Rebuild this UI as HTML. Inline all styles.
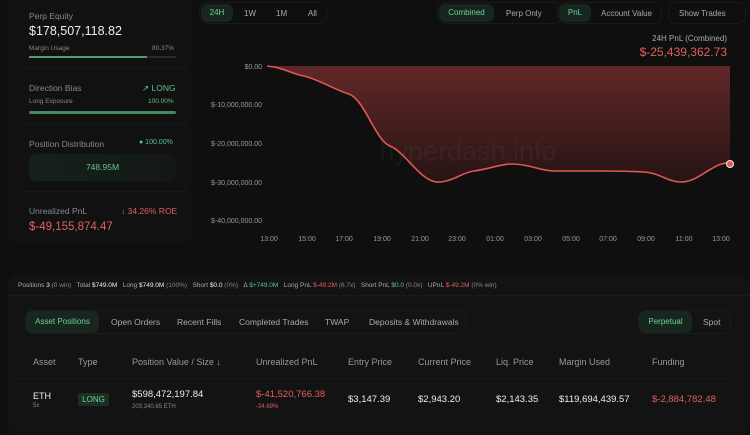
<!DOCTYPE html>
<html><head><meta charset="utf-8"><style>
*{margin:0;padding:0;box-sizing:border-box}
body{width:750px;height:430px;background:#0f0f0f;font-family:"Liberation Sans",sans-serif;color:#ddd;position:relative;overflow:hidden}
.a{position:absolute;white-space:nowrap}
.g{color:#5fc28a}.r{color:#e0605a}.m{color:#888}
.pill{position:absolute;border-radius:7px;background:#17271f;color:#6fcf97}
</style></head><body>
<div class="a" style="left:10px;top:0;width:180px;height:245px;background:#111"></div>
<div class="a m" style="left:29px;top:11px;font-size:8.5px">Perp Equity</div>
<div class="a" style="left:29px;top:24px;font-size:12.5px;color:#eee">$178,507,118.82</div>
<div class="a m" style="left:29px;top:45px;font-size:6.5px">Margin Usage</div>
<div class="a m" style="left:152px;top:45px;font-size:6.5px">80.37%</div>
<div class="a" style="left:29px;top:56px;width:147px;height:2px;background:#2a2a2a"><div style="width:118px;height:2px;background:#4a9d6e"></div></div>
<div class="a" style="left:20px;top:68px;width:165px;height:1px;background:#191919"></div>
<div class="a m" style="left:29px;top:83px;font-size:8.5px">Direction Bias</div>
<div class="a g" style="left:142px;top:83px;font-size:8.5px">↗ LONG</div>
<div class="a m" style="left:29px;top:98px;font-size:6.5px">Long Exposure</div>
<div class="a g" style="left:148px;top:98px;font-size:6.5px">100.00%</div>
<div class="a" style="left:29px;top:111px;width:147px;height:3px;border-radius:2px;background:#3f8a5f"></div>
<div class="a" style="left:20px;top:124px;width:165px;height:1px;background:#191919"></div>
<div class="a m" style="left:29px;top:139px;font-size:8.5px">Position Distribution</div>
<div class="a g" style="left:139px;top:139px;font-size:7px">● 100.00%</div>
<div class="a" style="left:29px;top:154px;width:147px;height:27px;border-radius:7px;background:linear-gradient(90deg,#16211b,#131815);color:#6fbf8f;font-size:8.5px;text-align:center;line-height:27px">748.95M</div>
<div class="a" style="left:20px;top:191px;width:165px;height:1px;background:#191919"></div>
<div class="a m" style="left:29px;top:206px;font-size:8.5px">Unrealized PnL</div>
<div class="a r" style="left:121px;top:206px;font-size:8.5px">↓ 34.26% ROE</div>
<div class="a r" style="left:29px;top:221px;font-size:11.5px">$-49,155,874.47</div>

<div class="a" style="left:199px;top:2px;width:128px;height:22px;border:1px solid #1a1a1a;border-radius:8px"></div>
<div class="pill" style="left:201px;top:4px;width:32px;height:18px;font-size:8px;text-align:center;line-height:18px">24H</div>
<div class="a" style="left:244px;top:9px;font-size:8px;color:#aaa">1W</div>
<div class="a" style="left:276px;top:9px;font-size:8px;color:#aaa">1M</div>
<div class="a" style="left:308px;top:9px;font-size:8px;color:#aaa">All</div>
<div class="a" style="left:437px;top:2px;width:125px;height:22px;border:1px solid #1a1a1a;border-radius:8px"></div>
<div class="pill" style="left:439px;top:4px;width:55px;height:18px;font-size:8px;text-align:center;line-height:18px">Combined</div>
<div class="a" style="left:506px;top:9px;font-size:8px;color:#aaa">Perp Only</div>
<div class="a" style="left:557px;top:2px;width:105px;height:22px;border:1px solid #1a1a1a;border-radius:8px"></div>
<div class="pill" style="left:559px;top:4px;width:32px;height:18px;font-size:8px;text-align:center;line-height:18px">PnL</div>
<div class="a" style="left:601px;top:9px;font-size:8px;color:#aaa">Account Value</div>
<div class="a" style="left:668px;top:2px;width:78px;height:22px;border:1px solid #1a1a1a;border-radius:8px"></div>
<div class="a" style="left:679px;top:9px;font-size:8px;color:#aaa">Show Trades</div>
<div class="a" style="right:23px;top:34px;font-size:8px;color:#aaa">24H PnL (Combined)</div>
<div class="a r" style="right:23px;top:45px;font-size:12px">$-25,439,362.73</div>

<svg class="a" style="left:0;top:0" width="750" height="260">
<defs><linearGradient id="f" x1="0" y1="0" x2="0" y2="1"><stop offset="0" stop-color="#6a2a2a"/><stop offset="1" stop-color="#2a1515"/></linearGradient></defs>
<g font-size="7" fill="#999" text-anchor="end" font-family="Liberation Sans">
<text x="262" y="69">$0.00</text><text x="262" y="107">$-10,000,000.00</text><text x="262" y="146">$-20,000,000.00</text><text x="262" y="185">$-30,000,000.00</text><text x="262" y="223">$-40,000,000.00</text></g>
<g font-size="7" fill="#999" text-anchor="middle" font-family="Liberation Sans">
<text x="269" y="241">13:00</text><text x="307" y="241">15:00</text><text x="344" y="241">17:00</text><text x="382" y="241">19:00</text><text x="420" y="241">21:00</text><text x="457" y="241">23:00</text><text x="495" y="241">01:00</text><text x="533" y="241">03:00</text><text x="571" y="241">05:00</text><text x="608" y="241">07:00</text><text x="646" y="241">09:00</text><text x="684" y="241">11:00</text><text x="721" y="241">13:00</text></g>
<path d="M267,66 C285,68 292,74 304,76 C320,80 335,90 349,94 C365,100 375,140 390,146 C405,152 420,180 436,182 C452,183 462,172 474,171 C490,169 500,164 511,164 C530,164 540,171 554,171 L599,171 C620,171 630,171 644,172 C660,173 668,182 681,182 C700,182 712,162 730,163 L730,66 Z" fill="url(#f)" opacity="0.9"/>
<text x="468" y="160" font-size="27" fill="#ffffff" fill-opacity="0.04" text-anchor="middle" font-family="Liberation Sans">hyperdash.info</text>
<path d="M267,66 C285,68 292,74 304,76 C320,80 335,90 349,94 C365,100 375,140 390,146 C405,152 420,180 436,182 C452,183 462,172 474,171 C490,169 500,164 511,164 C530,164 540,171 554,171 L599,171 C620,171 630,171 644,172 C660,173 668,182 681,182 C700,182 712,162 730,163" fill="none" stroke="#e2564f" stroke-width="1.6"/>
<circle cx="730" cy="164" r="3.5" fill="#e2564f" stroke="#eee" stroke-width="1"/>
</svg>

<div class="a" style="left:8px;top:275px;width:742px;height:160px;background:#131313;border-radius:10px"></div>
<div class="a" style="left:8px;top:295px;width:742px;height:1px;background:#1b1b1b"></div>
<div class="a" style="left:18px;top:282px;font-size:6.5px;color:#aaa">Positions <span style="color:#eee">3</span> <span class="m">(0 win)</span> &nbsp; Total <span style="color:#eee">$749.0M</span> &nbsp; Long <span style="color:#eee">$749.0M</span> <span class="m">(100%)</span> &nbsp; Short <span style="color:#eee">$0.0</span> <span class="m">(0%)</span> &nbsp; Δ <span class="g">$+749.0M</span> &nbsp; Long PnL <span class="r">$-49.2M</span> <span class="m">(6.7x)</span> &nbsp; Short PnL <span class="g">$0.0</span> <span class="m">(0.0x)</span> &nbsp; UPnL <span class="r">$-49.2M</span> <span class="m">(0% win)</span></div>
<div class="a" style="left:25px;top:310px;width:441px;height:24px;border:1px solid #1c1c1c;border-radius:8px"></div>
<div class="pill" style="left:26px;top:311px;width:73px;height:22px;font-size:8px;text-align:center;line-height:22px">Asset Positions</div>
<div class="a" style="left:111px;top:317px;font-size:8.5px;color:#aaa">Open Orders</div>
<div class="a" style="left:177px;top:317px;font-size:8.5px;color:#aaa">Recent Fills</div>
<div class="a" style="left:239px;top:317px;font-size:8.5px;color:#aaa">Completed Trades</div>
<div class="a" style="left:325px;top:317px;font-size:8.5px;color:#aaa">TWAP</div>
<div class="a" style="left:369px;top:317px;font-size:8.5px;color:#aaa">Deposits &amp; Withdrawals</div>
<div class="a" style="left:638px;top:310px;width:93px;height:24px;border:1px solid #1c1c1c;border-radius:8px"></div>
<div class="pill" style="left:639px;top:311px;width:53px;height:22px;font-size:8px;text-align:center;line-height:22px">Perpetual</div>
<div class="a" style="left:703px;top:317px;font-size:8.5px;color:#aaa">Spot</div>
<div class="a" style="left:18px;top:378px;width:712px;height:1px;background:#1b1b1b"></div>
<div class="a" style="top:357px;left:0;font-size:9px;color:#999;width:750px;height:12px">
<span class="a" style="left:33px">Asset</span><span class="a" style="left:78px">Type</span><span class="a" style="left:132px">Position Value / Size <span class="g">↓</span></span><span class="a" style="left:256px">Unrealized PnL</span><span class="a" style="left:348px">Entry Price</span><span class="a" style="left:418px">Current Price</span><span class="a" style="left:496px">Liq. Price</span><span class="a" style="left:559px">Margin Used</span><span class="a" style="left:652px">Funding</span></div>
<div class="a" style="left:33px;top:391px;font-size:9px;color:#eee">ETH</div>
<div class="a m" style="left:33px;top:403px;font-size:6px">5x</div>
<div class="a" style="left:78px;top:393px;width:31px;height:13px;background:#1a3024;color:#6fcf97;font-size:8px;text-align:center;line-height:13px;border-radius:2px">LONG</div>
<div class="a" style="left:132px;top:389px;font-size:9.5px;color:#eee">$598,472,197.84</div>
<div class="a m" style="left:132px;top:404px;font-size:6px">203,340.65 ETH</div>
<div class="a r" style="left:256px;top:389px;font-size:9.5px">$-41,520,766.38</div>
<div class="a r" style="left:256px;top:404px;font-size:6px">-34.69%</div>
<div class="a" style="left:348px;top:394px;font-size:9.5px;color:#eee">$3,147.39</div>
<div class="a" style="left:418px;top:394px;font-size:9.5px;color:#eee">$2,943.20</div>
<div class="a" style="left:496px;top:394px;font-size:9.5px;color:#eee">$2,143.35</div>
<div class="a" style="left:559px;top:394px;font-size:9.5px;color:#eee">$119,694,439.57</div>
<div class="a r" style="left:652px;top:394px;font-size:9.5px">$-2,884,782.48</div>
</body></html>
